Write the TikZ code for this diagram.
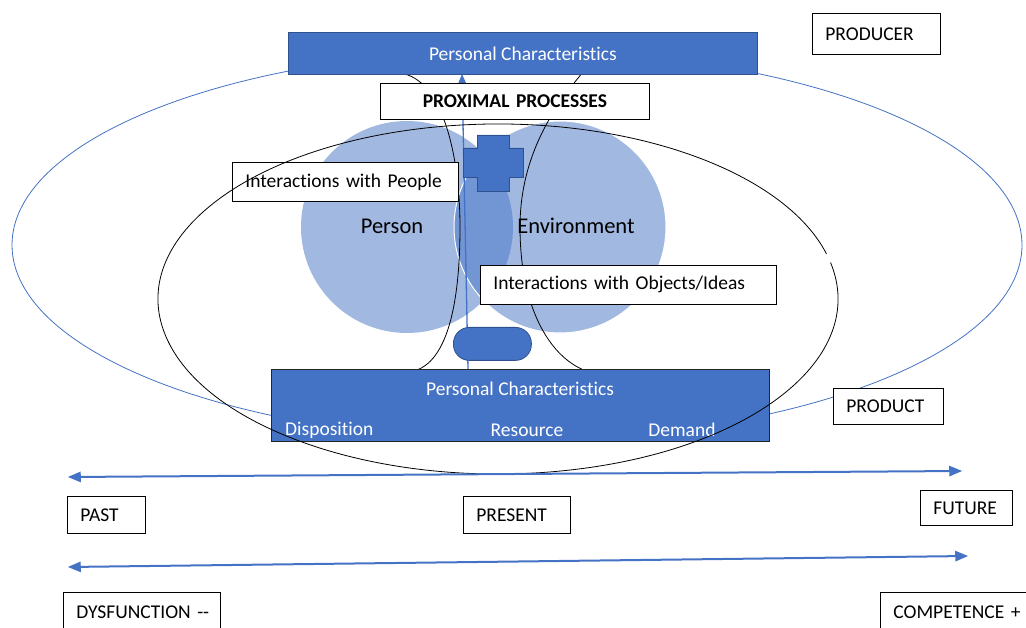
\documentclass[tikz,border=0pt]{standalone}
\usepackage{fontspec}
\setmainfont{Carlito}[Ligatures={TeX,NoCommon}]
\usetikzlibrary{arrows}
\definecolor{pcblue}{HTML}{4472C4}
\definecolor{pcedge}{HTML}{2F528F}
\tikzset{
  block/.style = {fill=pcblue, draw=pcedge, line width=0.8pt, anchor=north west, inner sep=0pt},
  blocktext/.style = {text=white, inner sep=0pt},
  labelbox/.style 2 args = {draw=black, fill=white, line width=0.8pt, anchor=north west, inner xsep=13pt, inner ysep=0pt, text width=#1, minimum height=#2, align=left},
  sphere/.style = {circle, fill=pcblue, fill opacity=0.5, minimum size=212pt, inner sep=0pt},
  timeline/.style = {draw=pcblue, line width=2pt},
}

\begin{document}
\begin{tikzpicture}[x=1pt, y=-1pt, font=\fontsize{19.5}{23}\selectfont]
  \useasboundingbox (0,0) rectangle (1026,628);
  \draw[pcblue, line width=0.8pt] (517,245) ellipse [x radius=505, y radius=195];
  \node[sphere] (person) at (407,227) {};
  \node[sphere, draw=white, line width=1pt] (environ) at (560,227) {};
  \node[font=\fontsize{22.5}{26}\selectfont] (personname) at (392,226) {Person};
  \node[font=\fontsize{22.5}{26}\selectfont] (environname) at (576,226) {Environment};
  \draw[line width=0.8pt] (396,73) .. controls (440,73) and (460,150) .. (460,227)
    .. controls (460,310) and (445,372) .. (405,372);
  \draw[line width=0.8pt] (583,72) .. controls (560,100) and (520,150) .. (520,227)
    .. controls (520,320) and (560,375) .. (608,375);
  \coordinate (upbot) at (468,369);
  \coordinate (uptop) at (462,74);
  \draw[pcblue, line width=1.3pt, -triangle 45] (upbot) -- (uptop);
  \filldraw[fill=pcblue, draw=pcedge, line width=0.8pt] (477,135) -- (509,135) -- (509,148) -- (523,148)
    -- (523,177) -- (509,177) -- (509,191) -- (477,191) -- (477,177) -- (463,177) -- (463,148) -- (477,148) -- cycle;
  \node[block, rounded corners=16pt, minimum width=78pt, minimum height=33pt] (minus) at (453,327) {};
  \node[block, minimum width=469pt, minimum height=42pt, text=white] (chartop) at (288,32) {Personal Characteristics};
  \node[block, draw=black!85, minimum width=498pt, minimum height=72pt] (charbot) at (271,369) {};
  \node[blocktext] (charname) at (520,389) {Personal Characteristics};
  \node[blocktext, anchor=west] (dispo) at (285,430) {Disposition};
  \node[blocktext] (resource) at (527,430) {Resource};
  \node[blocktext] (demand) at (682,430) {Demand};
  \node[labelbox={102pt}{41pt}] (producer) at (812,13) {PRODUCER};
  \node[labelbox={84pt}{36pt}] (product) at (833,388) {PRODUCT};
  \node[labelbox={243pt}{36pt}, align=center, font=\fontsize{19.5}{23}\selectfont\bfseries] (proximal) at (380,83) {PROXIMAL PROCESSES};
  \node[labelbox={200pt}{39pt}] (people) at (232,162) {Interactions with People};
  \node[labelbox={270pt}{39pt}] (objects) at (480,265) {Interactions with Objects/Ideas};
  \draw[line width=0.8pt] (498,299) ++(-12:340 and 175) arc[start angle=-12, end angle=345, x radius=340, y radius=175];
  \coordinate (pastend) at (68,477);
  \coordinate (futureend) at (962,471);
  \coordinate (dysend) at (68,567);
  \coordinate (compend) at (968,556);
  \draw[timeline, triangle 45-triangle 45] (pastend) -- (futureend);
  \draw[timeline, triangle 45-triangle 45] (dysend) -- (compend);
  \node[labelbox={52pt}{37pt}] (past) at (67,496) {PAST};
  \node[labelbox={81pt}{37pt}] (present) at (463,496) {PRESENT};
  \node[labelbox={66pt}{35pt}] (future) at (920,490) {FUTURE};
  \node[labelbox={131pt}{40pt}] (dysfunction) at (63,592) {\mbox{DYSFUNCTION -{}-}};
  \node[labelbox={130pt}{40pt}] (competence) at (880,592) {\mbox{COMPETENCE +}};
\end{tikzpicture}
\end{document}
